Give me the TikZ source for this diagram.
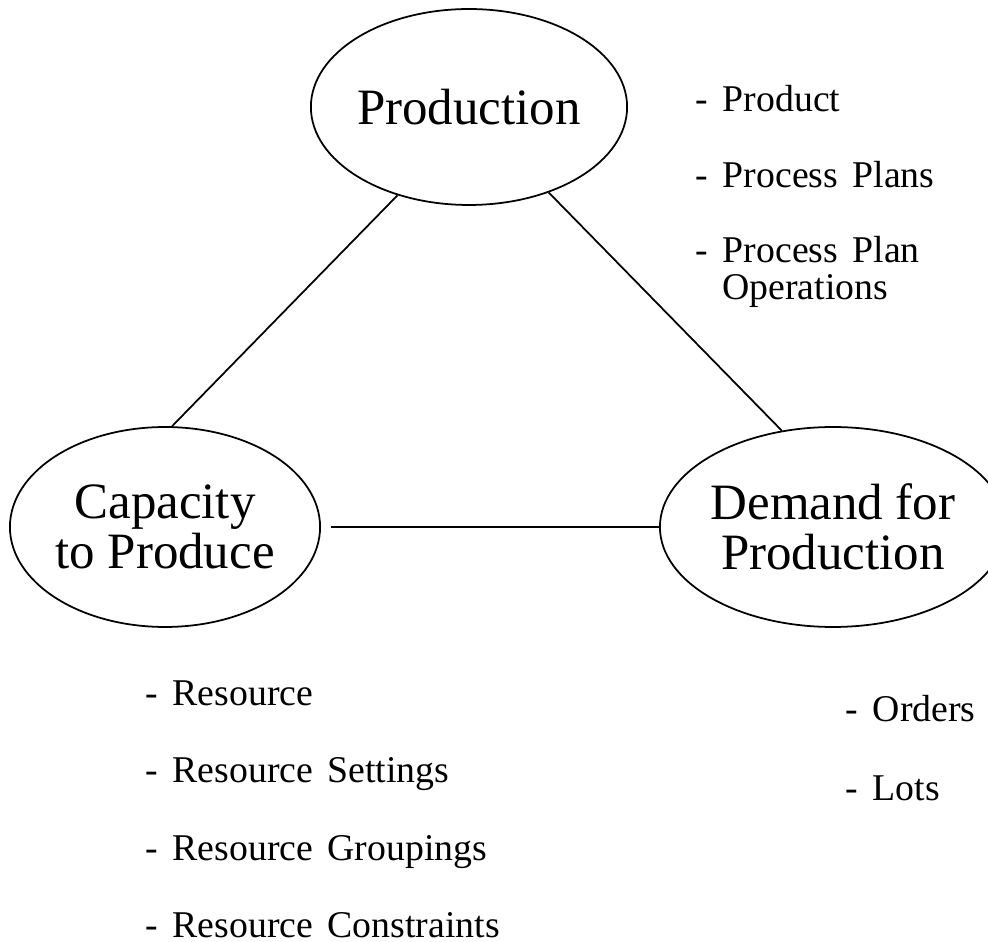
\documentclass[tikz,border=0pt]{standalone}
\usepackage{fontspec}
\setmainfont{Liberation Serif}
\usetikzlibrary{shapes.geometric}

\newcommand{\entryfont}{\fontsize{21.5}{21}\selectfont\spaceskip=0.38em plus 0pt\relax}

\tikzset{
  topic/.style={draw, ellipse, line width=1pt, inner sep=0pt, align=center,
    font=\fontsize{29}{28.5}\selectfont},
  entry/.style={anchor=base west, inner sep=0pt, font=\entryfont},
  link/.style={line width=1pt}
}

\begin{document}
\begin{tikzpicture}[x=0.02cm, y=-0.02cm]
            \useasboundingbox (0,0) rectangle (988,942);

            \node[topic, minimum width=6.08cm, minimum height=3.92cm] (prod) at (469,107) {Production};
            \node[topic, minimum width=6.2cm, minimum height=4cm] (cap) at (165,527) {Capacity\\to Produce};
            \node[topic, minimum width=6.06cm, minimum height=4cm] (dem) at (833,527) {Demand for\\Production};

            \draw[link] (prod.231) -- (cap.86);
            \draw[link] (prod.313) -- (dem.118);
            \draw[link, shorten <=0.2cm] (cap.east) -- (dem.west);

            % production
            \node[entry] (p1) at (695.5,112) {- Product};
            \node[entry] (p2) at (695.5,188) {- Process Plans};
            \node[entry] (p3) at (695.5,263) {- Process Plan};
            \node[entry] (p4) at (722,300) {Operations};

            % capacity
            \node[entry] (r1) at (145.5,705) {- Resource};
            \node[entry] (r2) at (145.5,782) {- Resource Settings};
            \node[entry] (r3) at (145.5,860) {- Resource Groupings};
            \node[entry] (r4) at (145.5,937) {- Resource Constraints};

            % demand
            \node[entry] (d1) at (845.5,722) {- Orders};
            \node[entry] (d2) at (845.5,800) {- Lots};
        \end{tikzpicture}
\end{document}
